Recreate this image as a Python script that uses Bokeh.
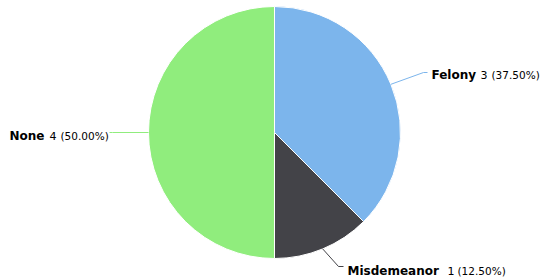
import math
from bokeh.plotting import figure
from bokeh.models import Range1d, ColumnDataSource
from bokeh.core.properties import value
from bokeh.embed import file_html
from bokeh.resources import INLINE

categories = ["Felony", "Misdemeanor", "None"]
counts = [3, 1, 4]
colors = ["#7cb5ec", "#434348", "#90ed7d"]

# layout (pixel coordinates, y downward)
CX, CY, R = 274, 132, 126
label_layout = {
    # name_x, value_x, pct_x, baseline_y, elbow_x, elbow_y, end_x
    "Felony": (431, 480, 491, 74, 423, 72, 427),
    "Misdemeanor": (347, 447, 457, 270, 338, 266, 343),
    "None": (9, 49, 60, 135, 112, 132, 109),
}

W, H = 541, 280
p = figure(width=W, height=H, output_backend="svg", toolbar_location=None,
           x_range=Range1d(0, W), y_range=Range1d(-H, 0),
           x_axis_location=None, y_axis_location=None, min_border=0,
           outline_line_color=None, background_fill_color="white")
p.grid.visible = False

total = sum(counts)
starts, ends, mids = [], [], []
cum = 0
for c in counts:
    a0 = math.pi / 2 - 2 * math.pi * cum / total
    cum += c
    a1 = math.pi / 2 - 2 * math.pi * cum / total
    starts.append(a0)
    ends.append(a1)
    mids.append((a0 + a1) / 2)

src = ColumnDataSource(dict(start=starts, end=ends, color=colors))
p.wedge(x=CX, y=-CY, radius=R, start_angle="start", end_angle="end",
        direction="clock", fill_color="color", line_color="white",
        line_width=1, source=src)

font = value("DejaVu Sans")
for name, cnt, col, mid in zip(categories, counts, colors, mids):
    nx, vx, px, by, ex, ey, endx = label_layout[name]
    sx = CX + R * math.cos(mid)
    sy = CY - R * math.sin(mid)
    p.line([sx, ex, endx], [-sy, -ey, -ey], line_color=col, line_width=1)
    pct = 100.0 * cnt / total
    p.text(x=[nx], y=[-by], text=[name], text_font=font, text_font_size="12px",
           text_font_style="bold", text_color="#000000",
           text_baseline="alphabetic", text_align="left")
    p.text(x=[vx], y=[-by], text=[str(cnt)], text_font=font, text_font_size="11px",
           text_color="#000000", text_baseline="alphabetic", text_align="left")
    p.text(x=[px], y=[-by], text=["(%.2f%%)" % pct], text_font=font,
           text_font_size="10.5px", text_color="#000000",
           text_baseline="alphabetic", text_align="left")

open("out.html", "w").write(file_html(p, INLINE))
